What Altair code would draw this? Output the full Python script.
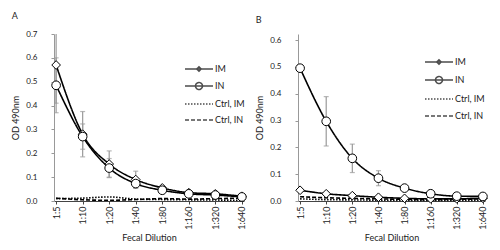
import altair as alt
import pandas as pd

dilutions = ["1:5", "1:10", "1:20", "1:40", "1:80", "1:160", "1:320", "1:640"]
series_names = ["IM", "IN", "Ctrl, IM", "Ctrl, IN"]

# Panel A
a_im = [0.57, 0.28, 0.155, 0.09, 0.055, 0.035, 0.030, 0.020]
a_in = [0.485, 0.27, 0.138, 0.073, 0.045, 0.030, 0.025, 0.017]
a_ctrl_im = [0.010, 0.012, 0.017, 0.008, 0.006, 0.005, 0.004, 0.003]
a_ctrl_in = [0.012, 0.005, 0.003, 0.006, 0.010, 0.008, 0.010, 0.012]
a_im_err = [0.16, 0.095, 0.055, 0.035, 0.010, 0.005, 0.005, 0.003]
a_in_err = [0.115, 0.053, 0.040, 0.020, 0.008, 0.004, 0.004, 0.003]

# Panel B
b_im = [0.040, 0.027, 0.020, 0.014, 0.010, 0.008, 0.008, 0.010]
b_in = [0.495, 0.297, 0.159, 0.085, 0.048, 0.027, 0.018, 0.017]
b_ctrl_im = [0.008, 0.005, 0.004, 0.003, 0.002, 0.002, 0.002, 0.003]
b_ctrl_in = [0.016, 0.012, 0.010, 0.008, 0.006, 0.005, 0.006, 0.008]
b_im_err = [0.005, 0.004, 0.003, 0.002, 0.002, 0.002, 0.002, 0.002]
b_in_err = [0.005, 0.092, 0.053, 0.028, 0.010, 0.005, 0.004, 0.003]

a_ticks = [0.0, 0.1, 0.2, 0.3, 0.4, 0.5, 0.6, 0.7]
b_ticks = [0.0, 0.1, 0.2, 0.3, 0.4, 0.5, 0.6]

FONT = "Lato"

dash_range = [[1, 0], [1, 0], [1.5, 1.5], [4, 2]]


def circle_path(r):
    k = round(0.5523 * r, 4)
    return (f"M{r},0C{r},{k} {k},{r} 0,{r}C{-k},{r} {-r},{k} {-r},0"
            f"C{-r},{-k} {-k},{-r} 0,{-r}C{k},{-r} {r},{-k} {r},0Z")


legend_shapes = [
    "M-2,0H2M0,-0.32L0.32,0L0,0.32L-0.32,0Z",
    "M-2,0H2" + circle_path(0.5),
    "M-2,0H2",
    "M-2,0H2",
]


def make_df(vals_list, errs):
    rows = []
    for name, vals in zip(series_names, vals_list):
        for i, d in enumerate(dilutions):
            e = errs.get(name, [0] * len(dilutions))[i]
            rows.append({"dil": d, "series": name, "od": vals[i],
                         "lo": vals[i] - e, "hi": vals[i] + e})
    return pd.DataFrame(rows)


def panel(df, label, ydomain, ticks, width, height, lx, ly, row_pad):
    xenc = alt.X("dil:N", sort=dilutions,
                 scale=alt.Scale(type="point", padding=0.08),
                 axis=alt.Axis(title="Fecal Dilution", labelAngle=-90,
                               labelPadding=2, tickSize=3, titlePadding=4,
                               domainColor="#444", tickColor="#444",
                               labelFontSize=9, titleFontSize=9,
                               titleFontWeight="normal", labelColor="#222",
                               titleColor="#222"))
    yscale = alt.Scale(domain=ydomain, nice=False)
    yaxis = alt.Axis(title="OD 490nm", values=ticks, format=".1f", grid=False,
                     tickSize=3, domainColor="#999", tickColor="#999",
                     labelPadding=14, titlePadding=5, labelFontSize=8,
                     titleFontSize=9, titleFontWeight="normal",
                     labelColor="#222", titleColor="#222")
    yenc = alt.Y("od:Q", scale=yscale, axis=yaxis)

    leg = alt.Legend(title=None, orient="none", legendX=lx, legendY=ly,
                     symbolSize=196, symbolStrokeWidth=1.5,
                     symbolStrokeColor="black", symbolFillColor="transparent",
                     labelOffset=8, rowPadding=row_pad, labelFontSize=9,
                     labelColor="#222", padding=0)
    dash = alt.StrokeDash("series:N",
                          scale=alt.Scale(domain=series_names, range=dash_range),
                          legend=leg)
    shape = alt.Shape("series:N",
                      scale=alt.Scale(domain=series_names, range=legend_shapes),
                      legend=leg)

    base = alt.Chart(df)
    err = base.transform_filter(alt.datum.hi > alt.datum.lo + 0.004)
    err_rule = err.mark_rule(color="#9a9a9a", strokeWidth=1.2, clip=True).encode(
        x=xenc, y=alt.Y("lo:Q", scale=yscale, axis=yaxis), y2="hi:Q")
    err_lo = err.mark_tick(color="#9a9a9a", thickness=1.2, size=5, clip=True).encode(
        x=xenc, y=alt.Y("lo:Q", scale=yscale, axis=yaxis))
    err_hi = err.mark_tick(color="#9a9a9a", thickness=1.2, size=5, clip=True).encode(
        x=xenc, y=alt.Y("hi:Q", scale=yscale, axis=yaxis))
    lines = base.mark_line(interpolate="monotone", color="black",
                           strokeWidth=1.6).encode(x=xenc, y=yenc, strokeDash=dash)
    im_pts = base.transform_filter(alt.datum.series == "IM").mark_point(
        shape="diamond", filled=True, fill="white", stroke="black",
        strokeWidth=1, size=75, opacity=1).encode(x=xenc, y=yenc)
    in_pts = base.transform_filter(alt.datum.series == "IN").mark_point(
        shape="circle", filled=True, fill="white", stroke="black",
        strokeWidth=1, size=75, opacity=1).encode(x=xenc, y=yenc)
    legend_layer = base.transform_filter("false").mark_point(
        color="black", filled=False, strokeWidth=1.5).encode(
        x=xenc, y=yenc, shape=shape, strokeDash=dash)

    return alt.layer(err_rule, err_lo, err_hi, lines, im_pts, in_pts,
                     legend_layer).properties(
        width=width, height=height,
        title=alt.TitleParams(label, anchor="start", fontSize=9,
                              fontWeight="normal", offset=9,
                              color="#222"))


df_a = make_df([a_im, a_in, a_ctrl_im, a_ctrl_in], {"IM": a_im_err, "IN": a_in_err})
df_b = make_df([b_im, b_in, b_ctrl_im, b_ctrl_in], {"IM": b_im_err, "IN": b_in_err})

chart_a = panel(df_a, "A", [0, 0.7], a_ticks, 190, 167, 137, 27, 3)
chart_b = panel(df_b, "B", [0, 0.6224], b_ticks, 187, 167, 133, 20, 4)

chart = alt.hconcat(chart_a, chart_b, spacing=6).resolve_scale(
    x="independent", y="independent", strokeDash="independent",
    shape="independent").resolve_legend(
    strokeDash="independent", shape="independent").properties(
    padding={"left": 11, "top": 12, "right": 0, "bottom": 0},
    background="white").configure(font=FONT).configure_view(stroke=None)

chart.save("out.html", embed_options={"renderer": "svg", "actions": False})
